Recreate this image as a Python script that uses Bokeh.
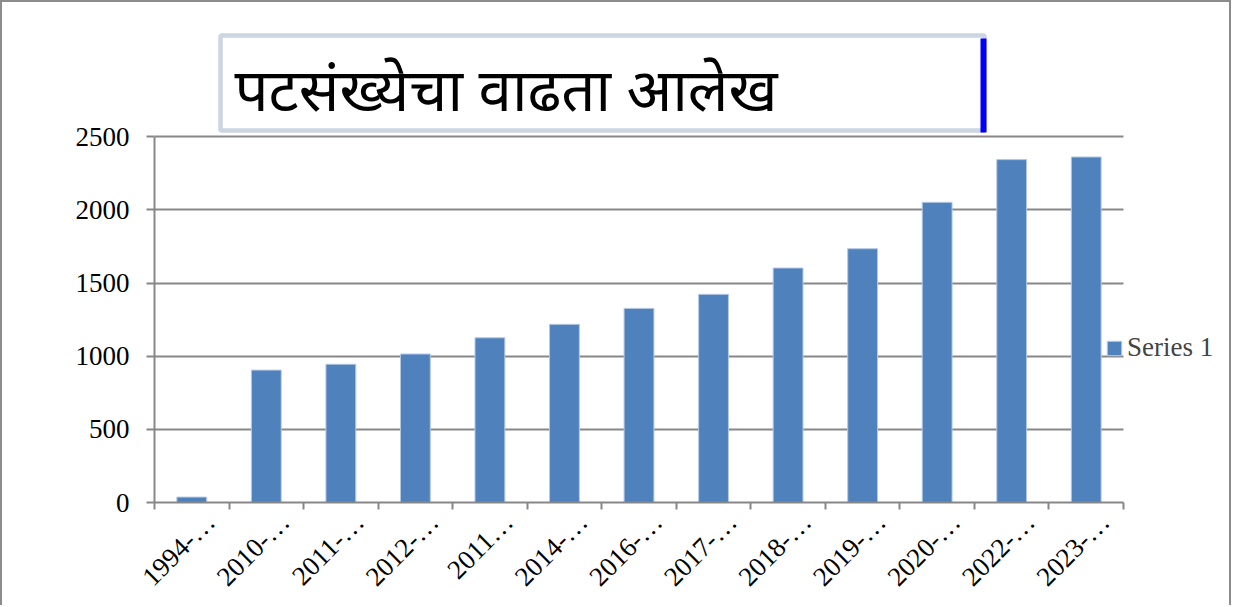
from bokeh.plotting import figure
from bokeh.models import (FixedTicker, Legend, LegendItem, Label, BoxAnnotation,
                          ColumnDataSource, Range1d)
from bokeh.embed import file_html
from bokeh.resources import INLINE

# ---- data -------------------------------------------------------------
years = ["1994-…", "2010-…", "2011-…", "2012-…", "2011…", "2014-…", "2016-…",
         "2017-…", "2018-…", "2019-…", "2020-…", "2022-…", "2023-…"]
enrolment = [37, 905, 945, 1015, 1126, 1218, 1327, 1423, 1603, 1735, 2052, 2344, 2362]
y_ticks = [0, 500, 1000, 1500, 2000, 2500]
title_text = "पटसंख्येचा वाढता आलेख"
series_name = "Series 1"

n = len(years)
positions = list(range(1, n + 1))
boundaries = [i + 0.5 for i in range(n + 1)]
label_pos = [pos + 0.25 for pos in positions]   # rotated labels hang right of centre

src = ColumnDataSource(dict(x=positions, top=enrolment, label=years))

GRAY = "#878787"
FONT = "Liberation Serif"

# geometry: the frame spans the title area and the legend area too
FW, FH = 1075, 500          # frame size in px
PLOT_W, PLOT_H = 969, 365.7  # size of the actual bar area in px
x_end = 0.5 + n * FW / PLOT_W
y_end = y_ticks[-1] * FH / PLOT_H

p = figure(frame_width=FW, frame_height=FH,
           min_border_left=152, min_border_right=0,
           min_border_top=0, min_border_bottom=87,
           x_range=Range1d(0.5, x_end), y_range=Range1d(0, y_end),
           output_backend="svg", toolbar_location=None, tools="")
p.outline_line_color = None
p.background_fill_color = "white"
p.border_fill_color = "white"
p.styles = {"border-left": "2px solid #8c8c8c", "border-top": "2px solid #8c8c8c",
            "border-right": "2px solid #8c8c8c"}

r = p.vbar(x="x", top="top", width=0.4, source=src,
           fill_color="#4f81bd", line_color="#b4c8e4", line_width=1)

# x axis: labels right of bar centres, ticks at category boundaries
xa = p.xaxis[0]
xa.bounds = (0.5, n + 0.5)
xa.ticker = FixedTicker(ticks=label_pos, minor_ticks=boundaries)
xa.major_label_overrides = {lp: lab for lp, lab in zip(label_pos, years)}
xa.major_tick_out = 0
xa.major_tick_in = 0
xa.minor_tick_out = 7
xa.minor_tick_in = 0
xa.minor_tick_line_color = GRAY
xa.minor_tick_line_width = 2
xa.axis_line_color = GRAY
xa.axis_line_width = 2
xa.major_label_orientation = 0.785398
xa.major_label_text_font = FONT
xa.major_label_text_font_size = "27px"
xa.major_label_text_color = "black"
xa.major_label_standoff = 8

ya = p.yaxis[0]
ya.bounds = (0, y_ticks[-1])
ya.ticker = FixedTicker(ticks=y_ticks)
ya.major_tick_out = 8
ya.major_tick_in = 0
ya.minor_tick_out = 0
ya.minor_tick_in = 0
ya.major_tick_line_color = GRAY
ya.major_tick_line_width = 2
ya.axis_line_color = GRAY
ya.axis_line_width = 2
ya.major_label_text_font = FONT
ya.major_label_text_font_size = "27px"
ya.major_label_text_color = "black"
ya.major_label_standoff = 17

p.xgrid.visible = False
p.ygrid.ticker = FixedTicker(ticks=y_ticks)
p.ygrid.cross_bounds = (0.5, n + 0.5)
p.ygrid.grid_line_color = GRAY
p.ygrid.grid_line_width = 2

legend = Legend(items=[LegendItem(label=series_name, renderers=[r])],
                location=(951, 139), padding=0, margin=0, spacing=0,
                glyph_width=18, glyph_height=18, label_standoff=4,
                label_text_font=FONT, label_text_font_size="27px",
                border_line_color=None, background_fill_alpha=0)
p.add_layout(legend, "center")

# title box (screen units: from the frame's bottom-left corner)
p.add_layout(BoxAnnotation(left=66, right=830, bottom=372, top=467,
                           left_units="screen", right_units="screen",
                           top_units="screen", bottom_units="screen",
                           fill_color="white", fill_alpha=1,
                           line_color="#cdd5e2", line_alpha=1, line_width=4.5))
p.add_layout(BoxAnnotation(left=826, right=832, bottom=370, top=464,
                           left_units="screen", right_units="screen",
                           top_units="screen", bottom_units="screen",
                           fill_color="#0000ff", fill_alpha=1, line_color=None))
p.add_layout(Label(x=80, y=407, x_units="screen", y_units="screen",
                   text=title_text, text_align="left", text_baseline="alphabetic",
                   text_font="'Noto Sans Devanagari', 'Lohit Devanagari', 'Noto Sans', sans-serif",
                   text_font_size="60px", text_font_style="normal", text_color="black"))

open("out.html", "w").write(file_html(p, INLINE))
